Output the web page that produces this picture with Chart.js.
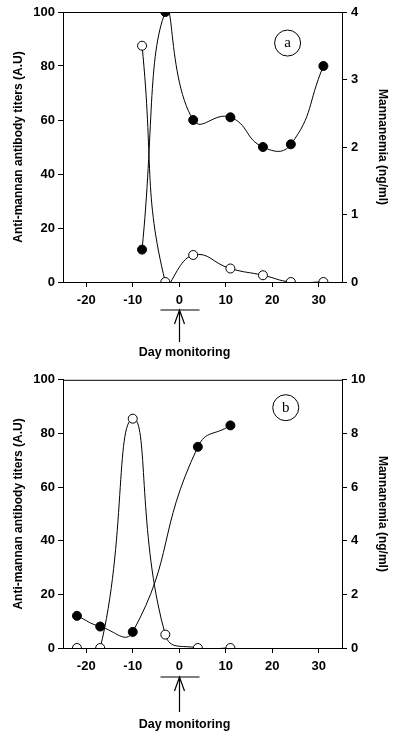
<!DOCTYPE html>
<html lang="en">
<head>
    <meta charset="UTF-8">
    <title>Anti-mannan antibody titers and mannanemia</title>
    <script src="https://cdn.jsdelivr.net/npm/chart.js"></script>
    <style>
        body { margin: 0; background: #fff; }
        .panel { position: relative; width: 400px; height: 368px; }
    </style>
</head>
<body>
    <div class="panel"><canvas id="chartA"></canvas></div>
    <div class="panel"><canvas id="chartB"></canvas></div>

    <script>
        // Panel a
        const daysA = [-8, -3, 3, 11, 18, 24, 31];
        const antibodyA = [12, 100, 60, 61, 50, 51, 80];
        const mannanA = [3.5, 0, 0.4, 0.2, 0.1, 0, 0];

        // Panel b
        const daysAntibodyB = [-22, -17, -10, 4, 11];
        const antibodyB = [12, 8, 6, 75, 83];
        const daysMannanB = [-22, -17, -10, -3, 4, 11];
        const mannanB = [0, 0, 8.55, 0.5, 0, 0];

        const xTicks = [-20, -10, 0, 10, 20, 30];
        const font = "'Liberation Sans', Arial, sans-serif";

        const toPoints = (xs, ys) => xs.map((x, i) => ({ x: x, y: ys[i] }));

        // frame, panel letter, arrow at day 0 and the axis caption
        const decorations = {
            id: 'decorations',
            afterDatasetsDraw(chart, args, opts) {
                const ctx = chart.ctx;
                const area = chart.chartArea;
                const xs = chart.scales.x;
                const ys = chart.scales.y;
                ctx.save();
                ctx.strokeStyle = '#000';
                ctx.lineWidth = 1;
                ctx.strokeRect(area.left + 0.5, area.top + 0.5, area.right - area.left, area.bottom - area.top);

                // letter in a circle
                const cx = xs.getPixelForValue(opts.letterX);
                const cy = ys.getPixelForValue(opts.letterY);
                ctx.beginPath();
                ctx.arc(cx, cy, 13, 0, Math.PI * 2);
                ctx.stroke();
                ctx.fillStyle = '#000';
                ctx.font = "15px 'Liberation Serif', serif";
                ctx.textAlign = 'center';
                ctx.textBaseline = 'middle';
                ctx.fillText(opts.letter, cx, cy);

                // arrow under day 0
                const x0 = Math.round(xs.getPixelForValue(0)) + 0.5;
                const barY = area.bottom + opts.barOffset;
                ctx.lineWidth = 1.2;
                ctx.beginPath();
                ctx.moveTo(x0 - 19, barY);
                ctx.lineTo(x0 + 20, barY);
                ctx.stroke();
                ctx.beginPath();
                ctx.moveTo(x0, barY);
                ctx.lineTo(x0, area.bottom + opts.shaftEnd);
                ctx.moveTo(x0 - 5, barY + 14);
                ctx.lineTo(x0, barY);
                ctx.lineTo(x0 + 5, barY + 14);
                ctx.stroke();

                ctx.font = 'bold 12.5px ' + font;
                ctx.fillText('Day monitoring', x0 + 5, area.bottom + opts.labelOffset);
                ctx.restore();
            }
        };

        function makeChart(id, antibodyPts, mannanPts, rightMax, rightStep, topPad, xHeight, deco) {
            return new Chart(document.getElementById(id), {
                type: 'line',
                data: {
                    datasets: [
                        {
                            label: 'Anti-mannan antibody',
                            data: antibodyPts,
                            yAxisID: 'y',
                            borderColor: '#000',
                            borderWidth: 1,
                            backgroundColor: '#000',
                            pointBackgroundColor: '#000',
                            pointBorderColor: '#000',
                            pointRadius: 4.5,
                            tension: 0.5,
                            capBezierPoints: false
                        },
                        {
                            label: 'Mannanemia',
                            data: mannanPts,
                            yAxisID: 'y2',
                            borderColor: '#000',
                            borderWidth: 1,
                            backgroundColor: '#fff',
                            pointBackgroundColor: '#fff',
                            pointBorderColor: '#000',
                            pointBorderWidth: 1,
                            pointRadius: 4.5,
                            tension: 0.5,
                            capBezierPoints: false
                        }
                    ]
                },
                options: {
                    responsive: true,
                    maintainAspectRatio: false,
                    animation: false,
                    layout: { padding: { top: topPad, left: 0, right: 0, bottom: 0 } },
                    plugins: {
                        legend: { display: false },
                        tooltip: { enabled: false },
                        decorations: deco
                    },
                    scales: {
                        x: {
                            type: 'linear',
                            min: -25,
                            max: 35,
                            afterBuildTicks: axis => { axis.ticks = xTicks.map(v => ({ value: v })); },
                            afterFit: axis => { axis.height = xHeight; },
                            grid: { drawOnChartArea: false, tickLength: 5, color: '#000' },
                            border: { color: '#000' },
                            ticks: { color: '#000', padding: 6, font: { family: font, size: 13, weight: 'bold' } }
                        },
                        y: {
                            position: 'left',
                            min: 0,
                            max: 100,
                            afterFit: axis => { axis.width = 63; },
                            grid: { drawOnChartArea: false, tickLength: 5, color: '#000' },
                            border: { color: '#000' },
                            ticks: { stepSize: 20, color: '#000', padding: 3, font: { family: font, size: 13, weight: 'bold' } },
                            title: {
                                display: true,
                                text: 'Anti-mannan antibody titers (A.U)',
                                color: '#000',
                                padding: { top: 11, bottom: 0 },
                                font: { family: font, size: 12, weight: 'bold' }
                            }
                        },
                        y2: {
                            position: 'right',
                            min: 0,
                            max: rightMax,
                            afterFit: axis => { axis.width = 58; },
                            grid: { drawOnChartArea: false, tickLength: 5, color: '#000' },
                            border: { color: '#000' },
                            ticks: { stepSize: rightStep, color: '#000', padding: 4, font: { family: font, size: 13, weight: 'bold' } },
                            title: {
                                display: true,
                                text: 'Mannanemia (ng/ml)',
                                color: '#000',
                                padding: { top: 10, bottom: 0 },
                                font: { family: font, size: 12, weight: 'bold' }
                            }
                        }
                    }
                },
                plugins: [decorations]
            });
        }

        makeChart('chartA', toPoints(daysA, antibodyA), toPoints(daysA, mannanA), 4, 1, 12, 86,
            { letter: 'a', letterX: 23.3, letterY: 88.5, barOffset: 28, shaftEnd: 60, labelOffset: 71 });

        makeChart('chartB', toPoints(daysAntibodyB, antibodyB), toPoints(daysMannanB, mannanB), 10, 2, 10, 88,
            { letter: 'b', letterX: 22.9, letterY: 89.6, barOffset: 29, shaftEnd: 64, labelOffset: 77 });
    </script>
</body>
</html>
